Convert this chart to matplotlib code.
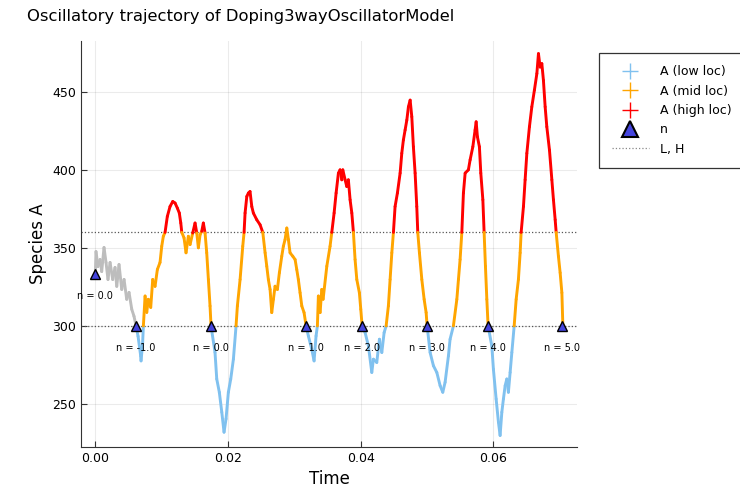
import numpy as np
import matplotlib
matplotlib.use("Agg")
import matplotlib.pyplot as plt
from matplotlib.collections import LineCollection
from matplotlib.lines import Line2D

# trajectory (time, species A)
time = np.array([
    0.0, 0.00010, 0.00040, 0.00071, 0.00096, 0.00131, 0.00161, 0.00191, 0.00222, 0.00262,
    0.00297, 0.00323, 0.00357, 0.00398, 0.00433, 0.00473, 0.00508, 0.00549, 0.00583, 0.00614,
    0.00644, 0.00684, 0.00689, 0.00712, 0.00724,
    0.00750, 0.00775, 0.00799, 0.00835, 0.00865, 0.00900, 0.00935, 0.00975, 0.01001, 0.01025, 0.01051,
    0.01085, 0.01126, 0.01167, 0.01202, 0.01236, 0.01266, 0.01288, 0.01303,
    0.01337, 0.01367, 0.01402, 0.01428, 0.01468, 0.01503, 0.01529, 0.01553, 0.01579, 0.01604,
    0.01628, 0.01654, 0.01679, 0.01704, 0.01729, 0.01744,
    0.01804, 0.01830, 0.01869, 0.01906, 0.01940, 0.01970, 0.02005, 0.02041, 0.02081, 0.02121,
    0.02141, 0.02182, 0.02222, 0.02242,
    0.02257, 0.02283, 0.02307, 0.02332, 0.02358, 0.02382, 0.02433, 0.02483, 0.02524,
    0.02559, 0.02584, 0.02608, 0.02634, 0.02659, 0.02684, 0.02709, 0.02744, 0.02774, 0.02810,
    0.02834, 0.02860, 0.02886, 0.02910, 0.02935, 0.02976, 0.03011, 0.03036, 0.03060, 0.03086,
    0.03112, 0.03146, 0.03177,
    0.03211, 0.03262, 0.03297, 0.03327, 0.03347,
    0.03362, 0.03388, 0.03413, 0.03433, 0.03489, 0.03538, 0.03564,
    0.03599, 0.03629, 0.03664, 0.03689, 0.03715, 0.03730, 0.03765, 0.03790, 0.03814, 0.03840,
    0.03866, 0.03890,
    0.03915, 0.03941, 0.03980, 0.04001, 0.04021,
    0.04066, 0.04116, 0.04167, 0.04191, 0.04242, 0.04282, 0.04318, 0.04353, 0.04383,
    0.04417, 0.04443, 0.04469, 0.04493,
    0.04518, 0.04553, 0.04594, 0.04619, 0.04643, 0.04669, 0.04695, 0.04719, 0.04745, 0.04770,
    0.04794, 0.04820, 0.04845, 0.04860,
    0.04885, 0.04921, 0.04956, 0.04986, 0.05001,
    0.05046, 0.05096, 0.05147, 0.05197, 0.05237, 0.05272, 0.05322, 0.05347, 0.05397,
    0.05449, 0.05473, 0.05498, 0.05524,
    0.05548, 0.05574, 0.05623, 0.05649, 0.05690, 0.05724, 0.05740, 0.05759, 0.05789, 0.05810,
    0.05841, 0.05860,
    0.05880, 0.05901, 0.05920,
    0.05976, 0.06000, 0.06041, 0.06076, 0.06101, 0.06127, 0.06151, 0.06177, 0.06202, 0.06226,
    0.06252, 0.06278, 0.06313,
    0.06343, 0.06377, 0.06403, 0.06418,
    0.06453, 0.06478, 0.06504, 0.06543, 0.06579, 0.06618, 0.06655, 0.06679, 0.06704, 0.06730,
    0.06754, 0.06780, 0.06805, 0.06845, 0.06881, 0.06905, 0.06931, 0.06946,
    0.06980, 0.07006, 0.07032, 0.07047,
])
species_a = np.array([
    333.0, 347.7, 338.1, 342.6, 334.9, 350.3, 340.7, 329.8, 340.7, 329.8,
    337.5, 325.4, 339.4, 323.4, 329.8, 317.1, 321.5, 310.7, 306.2, 300.0,
    293.4, 280.7, 277.6, 288.3, 300.0,
    319.2, 308.7, 317.1, 311.9, 329.8, 325.4, 336.2, 340.7, 351.1, 357.5, 360.0,
    370.2, 376.6, 379.8, 378.8, 375.6, 372.4, 366.0, 360.0,
    356.5, 346.9, 357.5, 352.2, 359.6, 366.0, 359.6, 350.1, 358.6, 360.7,
    366.0, 359.6, 346.9, 329.8, 312.8, 300.0,
    283.0, 266.0, 257.5, 244.7, 231.9, 240.4, 257.5, 266.0, 278.7, 300.0,
    312.8, 329.8, 351.1, 360.0,
    372.4, 383.0, 385.2, 386.2, 376.6, 372.4, 368.1, 364.9, 360.0,
    346.9, 338.3, 329.8, 323.4, 308.6, 317.1, 325.5, 323.4, 334.1, 344.7,
    351.1, 355.4, 362.8, 355.4, 346.9, 344.7, 342.6, 336.2, 329.8, 321.3,
    312.8, 308.6, 300.0,
    293.6, 285.1, 277.6, 293.6, 300.0,
    319.2, 308.6, 323.4, 317.1, 338.3, 351.1, 360.0,
    372.4, 385.2, 398.0, 400.1, 393.7, 400.1, 393.7, 389.4, 393.7, 380.9,
    372.4, 360.0,
    342.6, 329.8, 321.3, 310.7, 300.0,
    295.8, 287.2, 270.2, 278.7, 276.6, 291.5, 283.0, 295.8, 300.0,
    312.8, 329.8, 346.9, 360.0,
    376.6, 385.2, 398.0, 410.7, 419.2, 425.6, 432.0, 440.5, 444.8, 434.1,
    414.9, 398.0, 376.6, 360.0,
    346.9, 329.8, 317.1, 308.6, 300.0,
    283.0, 274.5, 270.2, 261.7, 257.5, 263.9, 280.8, 291.5, 300.0,
    317.1, 329.8, 342.6, 360.0,
    385.2, 398.0, 400.1, 406.5, 414.9, 425.6, 430.9, 421.3, 414.9, 398.0,
    380.9, 360.0,
    338.3, 317.1, 300.0,
    287.2, 272.3, 253.2, 238.3, 229.8, 244.7, 253.2, 261.7, 266.0, 257.5,
    270.2, 283.0, 300.0,
    317.1, 329.8, 346.9, 360.0,
    376.6, 393.7, 410.7, 427.7, 440.5, 451.2, 461.8, 474.6, 466.0, 468.2,
    457.5, 440.5, 427.7, 412.8, 393.7, 380.9, 368.1, 360.0,
    344.7, 334.1, 321.3, 300.0,
])

# n events
event_t = [0.0, 0.00614, 0.01744, 0.03177, 0.04021, 0.05001, 0.05920, 0.07040]
event_a = [333.0, 300, 300, 300, 300, 300, 300, 300]
event_n = [0.0, -1.0, 0.0, 1.0, 2.0, 3.0, 4.0, 5.0]

L, H = 300, 360

c_low, c_mid, c_high, c_init = '#80c1ef', '#ffa500', '#ff0000', '#bdbdbd'

fig = plt.figure(figsize=(7.4, 4.99), dpi=100)
ax = fig.add_axes([81/740, 1 - 447/499, 496/740, 406/499])

# colour each piece of the path by where it sits
pts = np.column_stack([time, species_a])
segs = np.stack([pts[:-1], pts[1:]], axis=1)
mid = (species_a[:-1] + species_a[1:]) / 2
cols = []
for i, m in enumerate(mid):
    if time[i + 1] <= event_t[1]:
        cols.append(c_init)
    elif m < L:
        cols.append(c_low)
    elif m <= H:
        cols.append(c_mid)
    else:
        cols.append(c_high)
lc = LineCollection(segs, colors=cols, linewidths=2.1, capstyle='round', joinstyle='round', zorder=3)
ax.add_collection(lc)

ax.axhline(L, color='#555555', ls=':', lw=0.9, zorder=2)
ax.axhline(H, color='#555555', ls=':', lw=0.9, zorder=2)

ax.plot(event_t, event_a, ls='none', marker='^', ms=7, mfc='#4444dd', mec='black', mew=1.0, zorder=5)
for t, a, n in zip(event_t, event_a, event_n):
    ax.annotate(f"n = {n:.1f}", (t, a), xytext=(0, -22), textcoords='offset pixels',
                ha='center', va='center', fontsize=7)

ax.set_xlim(-0.00216, 0.0726)
ax.set_ylim(222.4, 482.7)
ax.set_xticks([0.0, 0.02, 0.04, 0.06])
ax.set_xticklabels(['0.00', '0.02', '0.04', '0.06'])
ax.set_yticks([250, 300, 350, 400, 450])
ax.grid(True, color='black', alpha=0.08, lw=0.8)
ax.set_axisbelow(True)
for s in ['top', 'right']:
    ax.spines[s].set_visible(False)
for s in ['left', 'bottom']:
    ax.spines[s].set_color('#333333')
ax.tick_params(direction='in', length=4, labelsize=9, colors='#333333', labelcolor='black')
ax.set_xlabel('Time', fontsize=12)
ax.set_ylabel('Species A', fontsize=12)

fig.text(27/740, 1 - 17/499, 'Oscillatory trajectory of Doping3wayOscillatorModel',
         fontsize=11.8, ha='left', va='center')

handles = [
    Line2D([], [], ls='none', marker='+', ms=11, mew=1.0, mec=c_low, color=c_low),
    Line2D([], [], ls='none', marker='+', ms=11, mew=1.0, mec=c_mid, color=c_mid),
    Line2D([], [], ls='none', marker='+', ms=11, mew=1.0, mec=c_high, color=c_high),
    Line2D([], [], ls='none', marker='^', ms=11, mfc='#4444dd', mec='black', mew=1.5),
    Line2D([], [], ls=':', lw=0.9, color='#888888'),
]
labels = ['A (low loc)', 'A (mid loc)', 'A (high loc)', 'n', 'L, H']
leg = fig.legend(handles, labels, loc='upper left', bbox_to_anchor=(599/740, 1 - 53/499),
                 borderaxespad=0, fontsize=9, frameon=True, fancybox=False, edgecolor='black',
                 borderpad=1.0, labelspacing=0.5, handlelength=3.0, handletextpad=0.9)
leg.get_frame().set_linewidth(0.9)

fig.savefig('out.png', dpi=100)
